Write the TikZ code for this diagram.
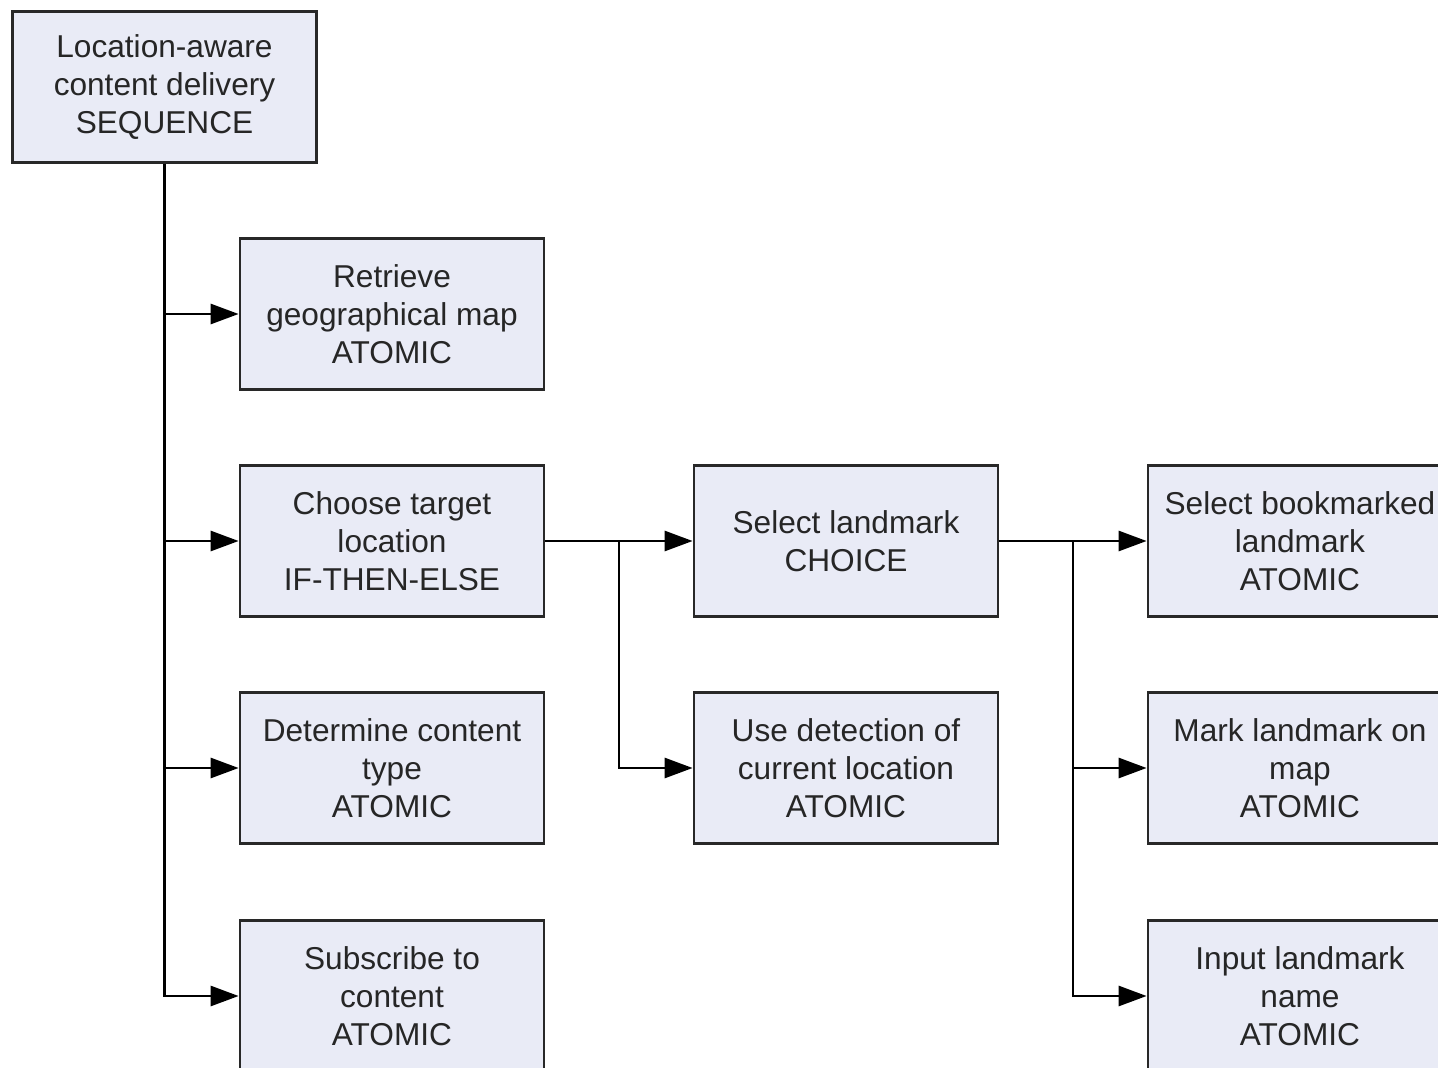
\documentclass[tikz,border=0pt]{standalone}
\usepackage{fontspec}
\setmainfont{Liberation Sans}
\usepackage{xcolor}
\usepackage{tikz}
\usetikzlibrary{positioning, arrows.meta}

\definecolor{boxfill}{RGB}{233,235,246}
\definecolor{boxline}{RGB}{40,40,40}

\begin{document}
\begin{tikzpicture}[x=0.02cm, y=-0.02cm,
    task/.style={draw=boxline, fill=boxfill, line width=1.6pt, minimum width=6.08cm, minimum height=3.02cm,
        inner sep=0pt, align=center, text=black!85, font=\fontsize{18}{21.6}\selectfont},
    link/.style={line width=1.6pt, -{Triangle[length=5.6mm, width=4mm]}},
]
\clip (0,0) rectangle (1438,1068);

\node[task] (root) at (164.5, 87) {Location-aware\\content delivery\\SEQUENCE};

\node[task] (ret) at (392, 314) {Retrieve\\geographical map\\ATOMIC};
\node[task] (choose) at (392, 541) {Choose target\\location\\IF-THEN-ELSE};
\node[task] (det) at (392, 768) {Determine content\\type\\ATOMIC};
\node[task] (sub) at (392, 996) {Subscribe to\\content\\ATOMIC};

\node[task] (sel) at (846, 541) {Select landmark\\CHOICE};
\node[task] (usedet) at (846, 768) {Use detection of\\current location\\ATOMIC};

\node[task] (bm) at (1300, 541) {Select bookmarked\\landmark\\ATOMIC};
\node[task] (mark) at (1300, 768) {Mark landmark on\\map\\ATOMIC};
\node[task] (inp) at (1300, 996) {Input landmark\\name\\ATOMIC};

% sequence
\draw[link] (root.south) |- (ret.west);
\draw[link] (root.south) |- (choose.west);
\draw[link] (root.south) |- (det.west);
\draw[link] (root.south) |- (sub.west);

% if-then-else
\coordinate (j1) at (619, 541);
\draw[link] (choose.east) -- (sel.west);
\draw[link] (j1) |- (usedet.west);

% choice
\coordinate (j2) at (1073, 541);
\draw[link] (sel.east) -- (bm.west);
\draw[link] (j2) |- (mark.west);
\draw[link] (j2) |- (inp.west);
\end{tikzpicture}
\end{document}
